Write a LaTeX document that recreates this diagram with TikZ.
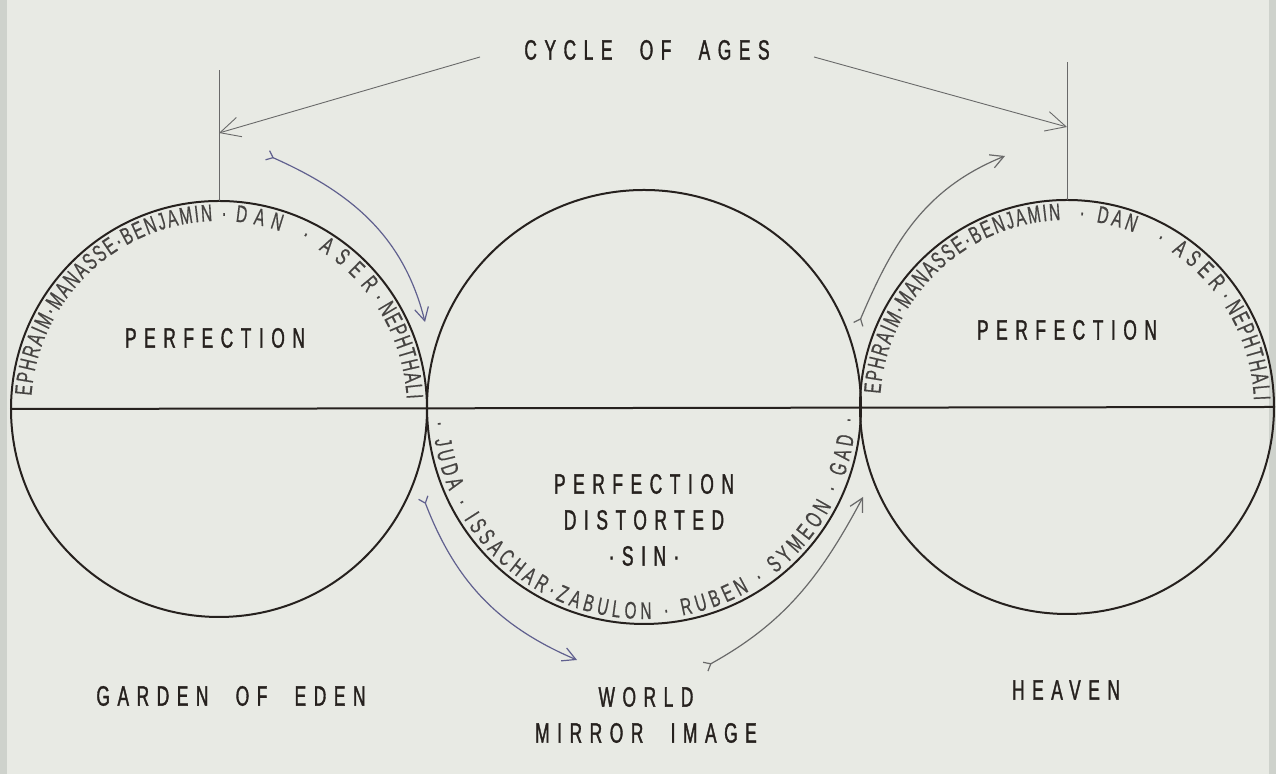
\documentclass[tikz,border=0pt]{standalone}
\usepackage{fontspec}
\setmainfont{Liberation Sans}
\newfontfamily\platefont[FakeStretch=0.62,FakeBold=1.2,LetterSpace=27,WordSpace=2.2]{Liberation Sans}
\newfontfamily\tribefont[FakeStretch=0.64,FakeBold=0.5]{Liberation Sans}
\newcommand\tribesize{\tribefont\fontsize{12}{14}\selectfont}
\usetikzlibrary{arrows.meta,decorations.text,positioning}

\definecolor{paper}{RGB}{232,234,228}
\definecolor{edge}{RGB}{206,210,204}
\definecolor{ink}{RGB}{38,33,30}
\definecolor{tribeink}{RGB}{70,68,66}
\definecolor{fallink}{RGB}{96,96,142}
\definecolor{riseink}{RGB}{105,105,105}

% tribe names set inside a circle: node, radius, start angle, end angle, names
\newcommand\tribearc[6][fit to path]{%
  \path[decorate, decoration={text along path, text align={#1}, text color=tribeink,
    text={|\tribesize|#6}}] (#2.center) ++(#4:#3) arc[start angle=#4, end angle=#5, radius=#3];}

\tikzset{
  ring/.style={draw=ink, circle, line width=1pt, inner sep=0pt, outer sep=0pt},
  plate/.style={font=\platefont\fontsize{14}{18}\selectfont, text=ink, align=center, inner sep=2pt},
  pointer/.style={draw=riseink, line width=0.45pt, -{Straight Barb[length=10pt,width=10pt]}},
  fall/.style={draw=fallink, line width=0.6pt, {Straight Barb[reversed,length=3pt,width=5pt]}-{Straight Barb[length=6.5pt,width=7pt]}},
  rise/.style={fall, draw=riseink},
}

\begin{document}
\begin{tikzpicture}[x=0.5pt, y=0.5pt]
  \fill[paper] (0,0) rectangle (1276,774);
  \useasboundingbox (0,0) rectangle (1276,774);
  \fill[edge] (0,0) rectangle (7,774);
  \fill[edge] (1269,0) rectangle (1276,774);

  % the three ages
  \node[ring, minimum size=208pt] (eden) at (219,365) {};
  \node[ring, minimum size=217pt] (world) at (644,367) {};
  \node[ring, minimum size=207pt] (heaven) at (1067,367) {};
  \draw[ink, line width=1pt] (eden.west) -- (heaven.east);

  % cycle of ages
  \node[plate] (cycle) at (647,724) {CYCLE OF AGES};
  \draw[riseink, line width=0.5pt] (eden.north) -- ++(0,131) coordinate (edenpin);
  \draw[riseink, line width=0.5pt] (heaven.north) -- ++(0,138) coordinate (heavenpin);
  \draw[pointer] ([xshift=-20pt,yshift=-3.5pt]cycle.west) -- ([yshift=34pt]eden.north);
  \draw[pointer] ([xshift=20pt,yshift=-3.5pt]cycle.east) -- ([yshift=36.5pt]heaven.north);

  % fall and rise
  \coordinate (fallA) at (267,619);
  \coordinate (fallB) at (425,452);
  \coordinate (sinkA) at (423,277);
  \coordinate (sinkB) at (577,114);
  \coordinate (riseA) at (705,107);
  \coordinate (riseB) at (863,277);
  \coordinate (ascA) at (858,449);
  \coordinate (ascB) at (1005,618);
  \draw[fall] (fallA) to[out=-24, in=104] (fallB);
  \draw[fall] (sinkA) to[out=-69, in=157] (sinkB);
  \draw[rise] (riseA) to[out=29, in=-118] (riseB);
  \draw[rise] (ascA) to[out=67, in=-158] (ascB);

  % labels
  \node[plate] (edenlbl) at (215,436) {PERFECTION};
  \node[plate] (heavenlbl) at (1067,444) {PERFECTION};
  \node[plate] (worldlbl) at (644,254) {PERFECTION\\DISTORTED\\·SIN·};
  \node[plate] (edenname) at (231,78) {GARDEN OF EDEN};
  \node[plate] (worldname) at (646,59) {WORLD\\MIRROR IMAGE};
  \node[plate] (heavenname) at (1066,84) {HEAVEN};

  % tribes
  \tribearc{eden}{188}{176}{92}{EPHRAIM·MANASSE·BENJAMIN}
  \tribearc[center]{eden}{188}{93}{84}{·}
  \tribearc{eden}{188}{85}{71}{DAN}
  \tribearc[center]{eden}{188}{68}{59}{·}
  \tribearc{eden}{188}{58}{38}{ASER}
  \tribearc[center]{eden}{188}{40}{30}{·}
  \tribearc{eden}{188}{32.5}{3}{NEPHTHALI}
  \tribearc{heaven}{187}{176}{92}{EPHRAIM·MANASSE·BENJAMIN}
  \tribearc[center]{heaven}{187}{90}{81}{·}
  \tribearc{heaven}{187}{81}{69}{DAN}
  \tribearc[center]{heaven}{187}{66}{56}{·}
  \tribearc{heaven}{187}{56}{38}{ASER}
  \tribearc[center]{heaven}{187}{40}{30}{·}
  \tribearc{heaven}{187}{32.5}{2}{NEPHTHALI}
  \tribearc{world}{212}{184}{357}{· JUDA · ISSACHAR·ZABULON · RUBEN · SYMEON · GAD ·}
\end{tikzpicture}
\end{document}
